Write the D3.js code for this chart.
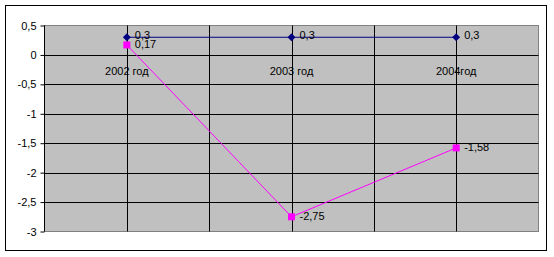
<!DOCTYPE html>
<html><head><meta charset="utf-8">
<script src="https://cdn.jsdelivr.net/npm/d3@7"></script>
<style>body{margin:0;background:#fff}svg{display:block}text{font-family:"Liberation Sans",Arial,sans-serif;font-size:11px;fill:#000}</style>
</head><body><svg id="c" width="554" height="257"></svg>
<script>
const categories = ["2002 год", "2003 год", "2004год"];
const seriesA = [0.3, 0.3, 0.3];
const seriesB = [0.17, -2.75, -1.58];
const labelsA = ["0,3", "0,3", "0,3"];
const labelsB = ["0,17", "-2,75", "-1,58"];
const yTicks = [0.5, 0, -0.5, -1, -1.5, -2, -2.5, -3];
const yTickLabels = ["0,5", "0", "-0,5", "-1", "-1,5", "-2", "-2,5", "-3"];

const svg = d3.select("#c");
const L = 44.5, R = 538.5, T = 25.5, B = 231.5;

// outer border
svg.append("rect").attr("x",5.5).attr("y",5.5).attr("width",541).attr("height",245)
  .attr("fill","#fff").attr("stroke","#000").attr("stroke-width",1);

const x = d3.scaleBand().domain(categories).range([L, R]).padding(0);
const y = d3.scaleLinear().domain([-3, 0.5]).range([B, T]);
const cx = d => x(d) + x.bandwidth()/2;

svg.append("rect").attr("x",L).attr("y",T).attr("width",R-L).attr("height",B-T)
  .attr("fill","#C0C0C0").attr("stroke","#808080").attr("stroke-width",1);

// horizontal gridlines
svg.append("g").selectAll("line").data(yTicks.filter(v => v > -3 && v < 0.5)).join("line")
  .attr("x1",L).attr("x2",R).attr("y1",d=>Math.round(y(d))+0.5).attr("y2",d=>Math.round(y(d))+0.5)
  .attr("stroke","#000");

// vertical gridlines at half-category steps
const vx = [];
categories.forEach((c,i)=>{ vx.push(cx(c)); if(i<categories.length-1) vx.push(x(c)+x.bandwidth()); });
svg.append("g").selectAll("line").data(vx).join("line")
  .attr("x1",d=>Math.round(d)+0.5).attr("x2",d=>Math.round(d)+0.5).attr("y1",T).attr("y2",B)
  .attr("stroke","#000");

// y axis
const ya = svg.append("g").attr("transform",`translate(${L},0)`)
  .call(d3.axisLeft(y).tickValues(yTicks).tickSize(4).tickPadding(4)
    .tickFormat((d,i)=>yTickLabels[i]));
ya.select(".domain").attr("stroke","#000").attr("d",`M-0,${T}V${B}`);
ya.selectAll(".tick line").attr("stroke","#000");
ya.selectAll("text").style("font-family","Liberation Sans, Arial, sans-serif").style("font-size","11px").attr("fill","#000");

// category labels below 0 line
svg.append("g").selectAll("text").data(categories).join("text")
  .attr("x",d=>cx(d)).attr("y",y(0)+20).attr("text-anchor","middle").text(d=>d);

// series B (magenta)
const lineB = d3.line().x((d,i)=>cx(categories[i])).y(d=>y(d));
svg.append("path").datum(seriesB).attr("d",lineB).attr("fill","none").attr("stroke","#FF00FF").attr("stroke-width",1);
svg.append("g").selectAll("rect").data(seriesB).join("rect")
  .attr("x",(d,i)=>cx(categories[i])-3.5).attr("y",d=>y(d)-3.5).attr("width",7).attr("height",7).attr("fill","#FF00FF");

// series A (navy)
const lineA = d3.line().x((d,i)=>cx(categories[i])).y(d=>y(d));
svg.append("path").datum(seriesA).attr("d",lineA).attr("fill","none").attr("stroke","#000080").attr("stroke-width",1.2);
svg.append("g").selectAll("path.m").data(seriesA).join("path").attr("class","m")
  .attr("d",d3.symbol(d3.symbolDiamond2 || d3.symbolDiamond, 40)())
  .attr("transform",(d,i)=>`translate(${cx(categories[i])},${y(d)})`).attr("fill","#000080");

// data labels
svg.append("g").selectAll("text").data(seriesA).join("text")
  .attr("x",(d,i)=>cx(categories[i])+8).attr("y",d=>y(d)+2).text((d,i)=>labelsA[i]);
svg.append("g").selectAll("text").data(seriesB).join("text")
  .attr("x",(d,i)=>cx(categories[i])+8).attr("y",d=>y(d)+3).text((d,i)=>labelsB[i]);
</script></body></html>
